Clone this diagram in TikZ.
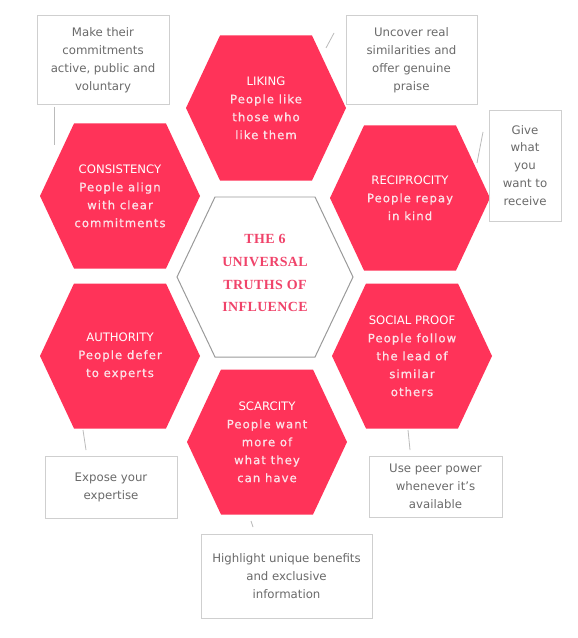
\documentclass[tikz,border=0pt]{standalone}
\usepackage{fontspec}
\setmainfont{DejaVu Sans}
\newfontfamily\subfont[LetterSpace=9,FakeBold=0.8]{DejaVu Sans}
\newfontfamily\centerfont[LetterSpace=3]{Liberation Serif}
\definecolor{hexred}{HTML}{FF3359}
\definecolor{subcol}{HTML}{FCE2E8}
\definecolor{centertxt}{HTML}{F0436A}
\definecolor{boxtxt}{HTML}{6A6A6A}
\definecolor{boxline}{HTML}{CFCFCF}
\definecolor{hexline}{HTML}{9A9A9A}
\definecolor{tickline}{HTML}{BBBBBB}
\newcommand\hexfill[1]{%
  \fill[hexred] ([shift={(-80,0)}]#1) -- ([shift={(-46,-72.5)}]#1) -- ([shift={(46,-72.5)}]#1)
   -- ([shift={(80,0)}]#1) -- ([shift={(46,72.5)}]#1) -- ([shift={(-46,72.5)}]#1) -- cycle;}
\tikzset{
  hextext/.style={align=center, text=white, font=\fontsize{11.7}{18}\selectfont, inner sep=0pt},
  tipbox/.style={draw=boxline, line width=1pt, align=center, text=boxtxt, inner sep=0pt,
     font=\fontsize{11.8}{18}\selectfont},
  tick/.style={draw=tickline, line width=0.8pt},
}
\newcommand\sub[1]{{\subfont\color{subcol}#1}}
\begin{document}
\begin{tikzpicture}[x=1bp, y=-1bp]
\fill[white] (0,0) rectangle (578,638);
\useasboundingbox (0,0) rectangle (578,638);
% hexagon centres
\coordinate (cLik) at (266,108);
\coordinate (cRec) at (410,198);
\coordinate (cSoc) at (412,356);
\coordinate (cSca) at (267,442);
\coordinate (cAut) at (120,356);
\coordinate (cCon) at (120,196);
\coordinate (cMid) at (265,277);
\hexfill{cLik}
\hexfill{cRec}
\hexfill{cSoc}
\hexfill{cSca}
\hexfill{cAut}
\hexfill{cCon}
\draw[hexline, line width=1pt] ([shift={(-88,0)}]cMid) -- ([shift={(-50,-80)}]cMid) -- ([shift={(50,-80)}]cMid)
   -- ([shift={(88,0)}]cMid) -- ([shift={(50,80)}]cMid) -- ([shift={(-50,80)}]cMid) -- cycle;
% hexagon texts
\node[hextext] (liking) at (cLik) {LIKING\\\sub{People like}\\\sub{those who}\\\sub{like them}};
\node[hextext] (recip) at (cRec) {RECIPROCITY\\\sub{People repay}\\\sub{in kind}};
\node[hextext] (social) at (cSoc) {SOCIAL PROOF\\\sub{People follow}\\\sub{the lead of}\\\sub{similar}\\\sub{others}};
\node[hextext] (scarc) at (cSca) {SCARCITY\\\sub{People want}\\\sub{more of}\\\sub{what they}\\\sub{can have}};
\node[hextext] (auth) at (cAut) {AUTHORITY\\\sub{People defer}\\\sub{to experts}};
\node[hextext] (consis) at (cCon) {CONSISTENCY\\\sub{People align}\\\sub{with clear}\\\sub{commitments}};
\node[align=center, text=centertxt, inner sep=0pt, font=\centerfont\bfseries\fontsize{14}{23}\selectfont] (mid) at (265,273)
  {THE 6\\UNIVERSAL\\TRUTHS OF\\INFLUENCE};
% tip boxes
\node[tipbox, minimum width=132bp, minimum height=88bp] (b1) at (103,60) {Make their\\commitments\\active, public and\\voluntary};
\node[tipbox, minimum width=131bp, minimum height=88bp] (b2) at (411.5,60) {Uncover real\\similarities and\\offer genuine\\praise};
\node[tipbox, minimum width=72bp, minimum height=111bp] (b3) at (525,165.5) {Give\\what\\you\\want to\\receive};
\node[tipbox, minimum width=132bp, minimum height=62bp] (b4) at (111,487) {Expose your\\expertise};
\node[tipbox, minimum width=133bp, minimum height=61bp] (b5) at (435.5,486.5) {Use peer power\\whenever it’s\\available};
\node[tipbox, minimum width=171bp, minimum height=84bp] (b6) at (286.5,576) {Highlight unique benefits\\and exclusive\\information};
% connector ticks
\coordinate (k1a) at (54,107); \coordinate (k1b) at (54,145);
\coordinate (k2a) at (334,33); \coordinate (k2b) at (326,48);
\coordinate (k3a) at (483,132); \coordinate (k3b) at (477,163);
\coordinate (k4a) at (83,430); \coordinate (k4b) at (86,450);
\coordinate (k5a) at (408,430); \coordinate (k5b) at (410,450);
\coordinate (k6a) at (251,521); \coordinate (k6b) at (253,527);
\draw[tick] (k1a) -- (k1b);
\draw[tick] (k2a) -- (k2b);
\draw[tick] (k3a) -- (k3b);
\draw[tick] (k4a) -- (k4b);
\draw[tick] (k5a) -- (k5b);
\draw[tick] (k6a) -- (k6b);
\end{tikzpicture}
\end{document}
